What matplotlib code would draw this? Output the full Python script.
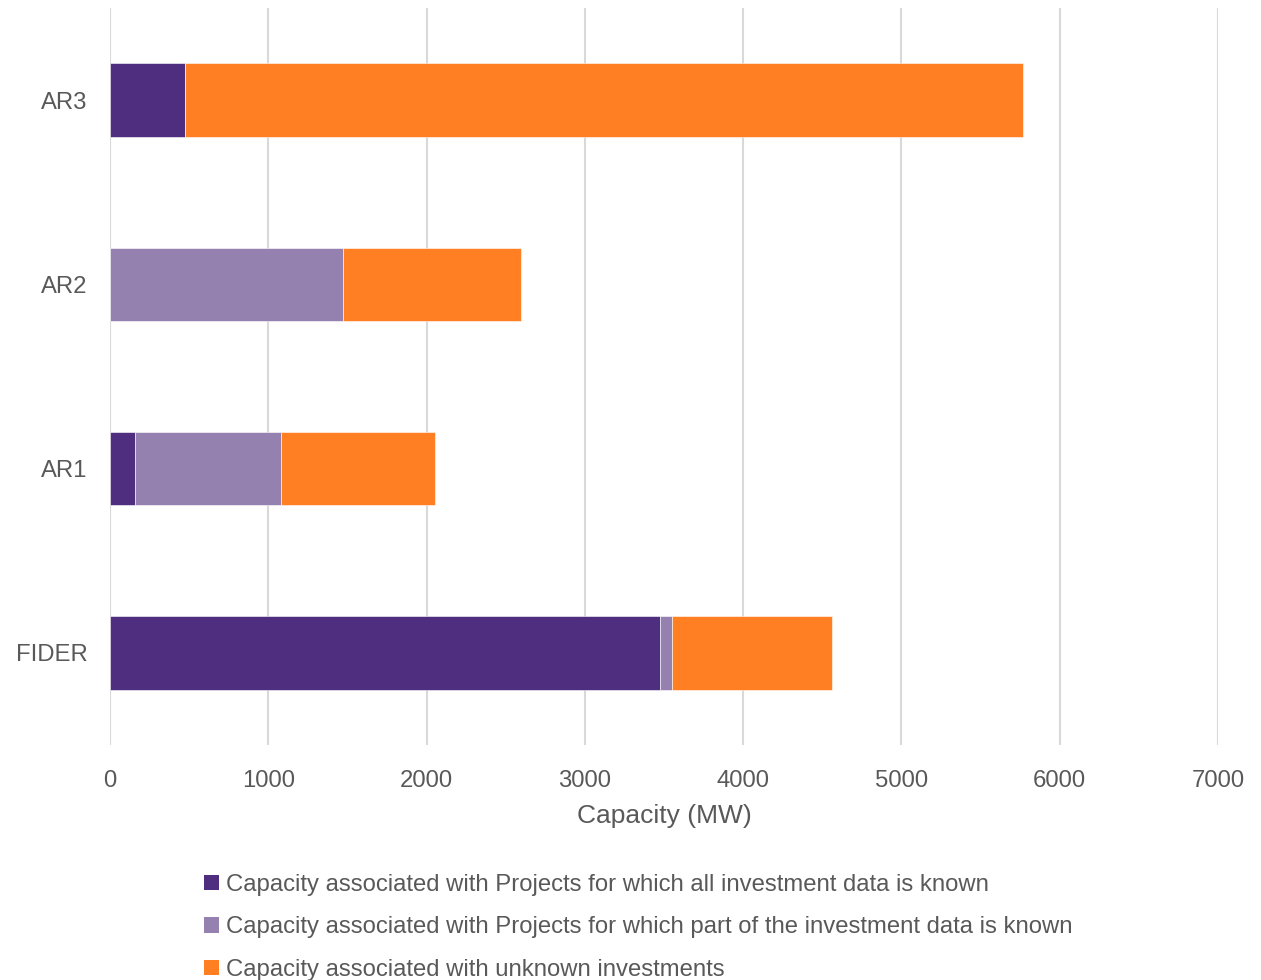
import matplotlib.pyplot as plt
from matplotlib.patches import Patch

schemes = ["FIDER", "AR1", "AR2", "AR3"]
known_all = [3476, 161, 0, 475]
known_part = [73, 922, 1472, 0]
unknown = [1011, 973, 1124, 5295]

series_labels = [
    "Capacity associated with Projects for which all investment data is known",
    "Capacity associated with Projects for which part of the investment data is known",
    "Capacity associated with unknown investments",
]
colors = ["#4f2d7f", "#9581b0", "#ff7f22"]
x_ticks = [0, 1000, 2000, 3000, 4000, 5000, 6000, 7000]

plt.rcParams["font.family"] = ["Liberation Sans", "DejaVu Sans"]
text_grey = "#595959"

fig = plt.figure(figsize=(12.61, 9.8), dpi=100)
ax = fig.add_axes([0.0872, 0.2398, 0.8787, 0.752])

pos = range(len(schemes))
h = 0.4
left = [0] * len(schemes)
for vals, c in zip([known_all, known_part, unknown], colors):
    ax.barh(pos, vals, height=h, left=left, color=c, edgecolor="white",
            linewidth=0.4, zorder=3)
    left = [l + v for l, v in zip(left, vals)]

ax.set_xlim(0, 7000)
ax.set_ylim(-0.5, 3.5)
ax.set_xticks(x_ticks)
ax.set_xticklabels([str(t) for t in x_ticks])
ax.set_yticks(list(pos))
ax.set_yticklabels(schemes)
ax.xaxis.grid(True, color="#d9d9d9", linewidth=1.5, zorder=0)
for s in ax.spines.values():
    s.set_visible(False)
ax.tick_params(axis="both", length=0, colors=text_grey, labelsize=17.2)
ax.tick_params(axis="x", pad=18)
ax.tick_params(axis="y", pad=16)
ax.set_xlabel("Capacity (MW)", fontsize=19, color=text_grey, labelpad=9)

handles = [Patch(facecolor=c, edgecolor="none") for c in colors]
fig.legend(handles, series_labels, loc="upper left", bbox_to_anchor=(0.1545, 0.118),
           frameon=False, fontsize=17.2, labelcolor=text_grey, handlelength=0.6,
           handleheight=0.6, handletextpad=0.3, labelspacing=0.86,
           borderaxespad=0)

fig.savefig("out.png", dpi=100, facecolor="white")
